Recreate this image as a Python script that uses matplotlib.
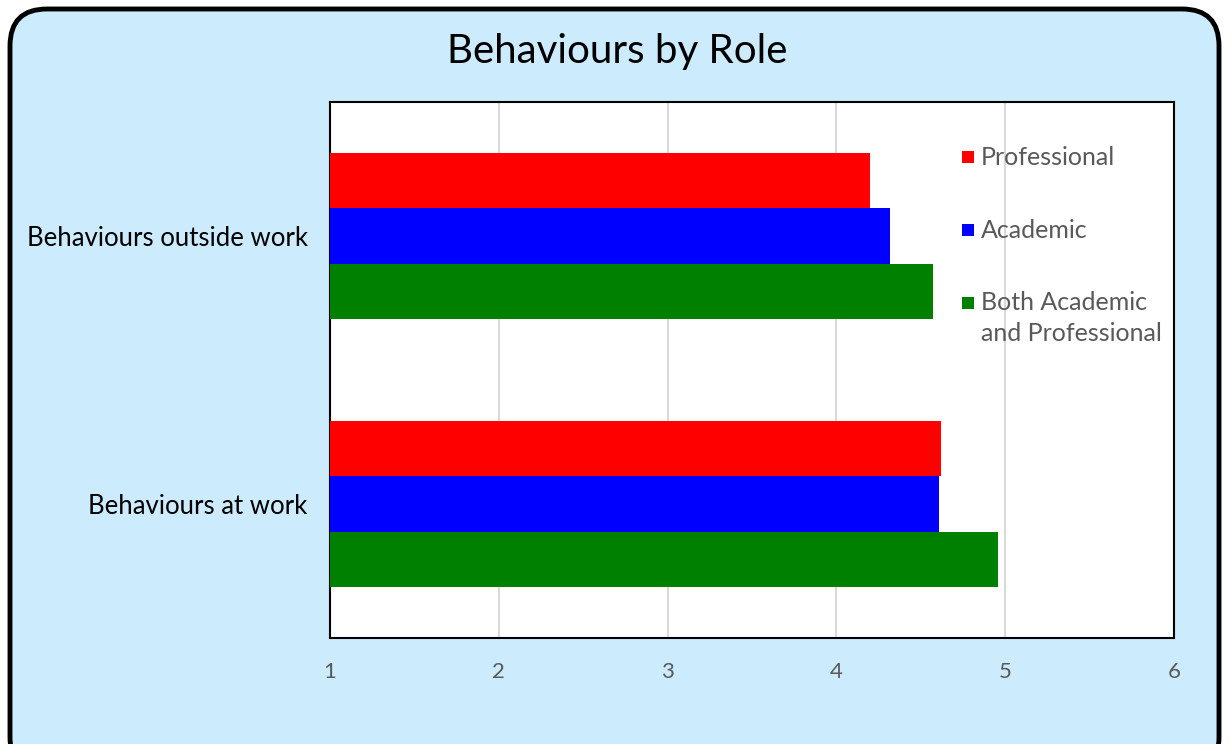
import matplotlib.pyplot as plt
from matplotlib.patches import FancyBboxPatch, Rectangle
import numpy as np

# Datos
categorias = ['Behaviours at work', 'Behaviours outside work']
series = ['Professional', 'Academic', 'Both Academic\nand Professional']
profesional = [4.62, 4.20]
academico = [4.61, 4.32]
ambos = [4.96, 4.57]
colores = ['#FF0000', '#0000FF', '#008000']
ticks_x = [1, 2, 3, 4, 5, 6]

plt.rcParams['font.family'] = ['Lato', 'DejaVu Sans']

W, H = 1231, 744
fig = plt.figure(figsize=(W / 100, H / 100), dpi=100)
fig.patch.set_facecolor('white')

# Marco redondeado de fondo
marco = FancyBboxPatch((10 / W, -30 / H), (W - 22) / W, (H + 30 - 9) / H,
                       boxstyle='round,pad=0,rounding_size=0.03',
                       transform=fig.transFigure, facecolor='#CCEBFD',
                       edgecolor='black', linewidth=3.5, mutation_aspect=W / H,
                       zorder=-5)
fig.patches.append(marco)

ax = fig.add_axes([330 / W, 1 - 638 / H, (1174 - 330) / W, (638 - 102) / H])
ax.set_facecolor('white')

y = np.arange(len(categorias))
alto = 0.207
for i, (vals, nombre, c) in enumerate(zip([profesional, academico, ambos], series, colores)):
    ax.barh(y + (1 - i) * alto, np.array(vals) - 1, left=1, height=alto,
            color=c, label=nombre, zorder=3)

ax.set_xlim(1, 6)
ax.set_ylim(-0.5, 1.5)
ax.set_xticks(ticks_x)
ax.set_xticklabels([str(t) for t in ticks_x], color='#595959', fontsize=16)
ax.set_yticks(y)
ax.set_yticklabels(categorias, fontsize=18.5, color='black')
ax.tick_params(axis='both', length=0)
ax.tick_params(axis='x', pad=17)
ax.tick_params(axis='y', pad=16)
ax.grid(axis='x', color='#D9D9D9', linewidth=1.5, zorder=0)
for lado in ax.spines.values():
    lado.set_color('black')
    lado.set_linewidth(1.5)

# Leyenda manual (el marcador va con la primera línea de cada texto)
filas_y = [0.897, 0.761, 0.625]
for c, s, fy in zip(colores, series, filas_y):
    ax.add_patch(Rectangle((0.749, fy - 0.011), 0.0135, 0.022, transform=ax.transAxes,
                           facecolor=c, edgecolor='none', zorder=5))
    for k, linea in enumerate(s.split('\n')):
        ax.text(0.771, fy - k * 0.056, linea, transform=ax.transAxes, ha='left',
                va='center', fontsize=18, color='#595959', zorder=5)

fig.text(617 / W, 1 - 52 / H, 'Behaviours by Role', ha='center', va='center',
         fontsize=29, color='black')

fig.savefig('out.png', dpi=100)
